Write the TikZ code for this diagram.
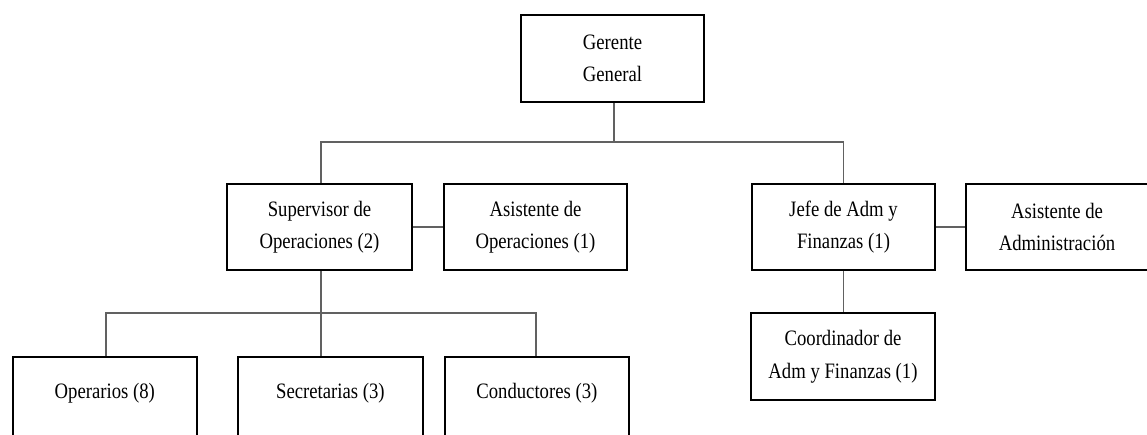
\documentclass[tikz,border=0pt]{standalone}
\usepackage{fontspec}
\setmainfont{Liberation Serif}[FakeStretch=0.85]
\begin{document}
\begin{tikzpicture}[x=1pt,y=-1pt,
  box/.style={draw=black,line width=1.7pt,fill=white,align=center,
    font=\fontsize{22}{32.5}\selectfont,inner sep=0pt},
  twoline/.style={box,minimum width=183pt,minimum height=86pt},
  lowbox/.style={box,anchor=north west,minimum width=184pt,
    text height=42pt,text depth=120pt},
  conn/.style={draw=black!62,line width=1.1pt}]
\useasboundingbox (0,0) rectangle (1147,434);
\clip (0,0) rectangle (1147,434);
% nodes
\node[twoline,minimum height=87pt] (ger) at (612.5,58.5) {Gerente\\General};
\node[twoline,minimum width=185pt] (sup) at (319.5,227) {Supervisor de\\Operaciones (2)};
\node[twoline] (aop) at (535.5,227) {Asistente de\\Operaciones (1)};
\node[twoline] (jefe) at (843.5,227) {Jefe de Adm y\\Finanzas (1)};
\node[twoline,minimum width=182pt] (aadm) at (1057,227) {Asistente de\\Administración};
\node[twoline,minimum width=184pt,minimum height=87pt] (coord) at (843,356.5) {Coordinador de\\Adm y Finanzas (1)};
\node[lowbox] (oper) at (12,356) {Operarios (8)};
\node[lowbox,minimum width=185pt] (secr) at (237,356) {Secretarias (3)};
\node[lowbox] (cond) at (444,356) {Conductores (3)};
% bus coordinates
\coordinate (bus1) at (614,142);
\coordinate (bus2) at (321,313);
% connectors
\draw[conn] (ger.south -| bus1) -- (bus1);
\draw[conn] (sup.north -| bus2) |- (bus1) -| (jefe.north);
\draw[conn] (sup.east) -- (aop.west);
\draw[conn] (jefe.east) -- (aadm.west);
\draw[conn] (jefe.south) -- (coord.north -| jefe.south);
\draw[conn] (sup.south -| bus2) -- (secr.north -| bus2);
\draw[conn] (oper.north -| 106,0) |- (bus2) -| (cond.north -| 536,0);
\end{tikzpicture}
\end{document}
